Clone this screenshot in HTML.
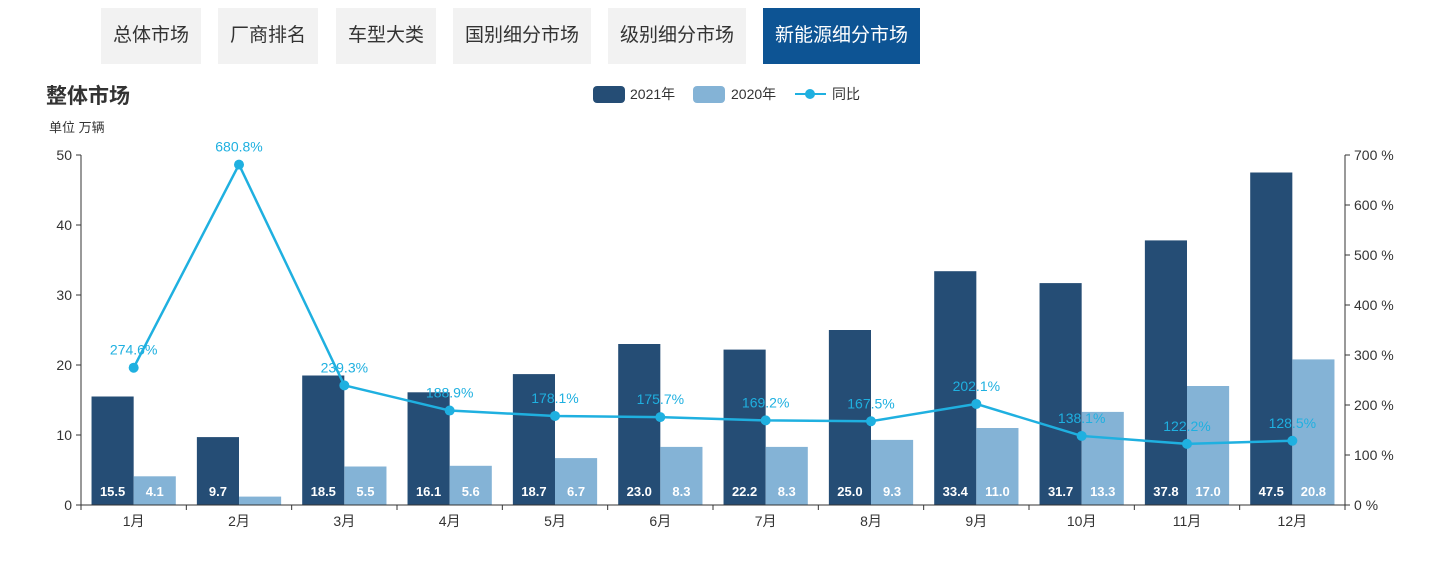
<!DOCTYPE html>
<html><head><meta charset="utf-8">
<style>
body{margin:0;width:1445px;height:580px;background:#fff;font-family:"Liberation Sans","Noto Sans CJK SC",sans-serif;overflow:hidden;position:relative}
.tab{position:absolute;top:8px;height:56px;line-height:56px;background:#f2f2f2;color:#333;font-size:19px;text-align:center}
.tab.on{background:#0d5494;color:#fff}
</style></head><body>
<div class="tab" style="left:101px;width:100px">总体市场</div>
<div class="tab" style="left:218px;width:100px">厂商排名</div>
<div class="tab" style="left:336px;width:100px">车型大类</div>
<div class="tab" style="left:453px;width:138px">国别细分市场</div>
<div class="tab" style="left:608px;width:138px">级别细分市场</div>
<div class="tab on" style="left:763px;width:157px">新能源细分市场</div>
<svg id="c" width="1445" height="580" style="position:absolute;left:0;top:0"></svg>
<script>
const categories=['1月','2月','3月','4月','5月','6月','7月','8月','9月','10月','11月','12月'];
const sales2021=[15.5,9.7,18.5,16.1,18.7,23.0,22.2,25.0,33.4,31.7,37.8,47.5];
const sales2020=[4.1,1.2,5.5,5.6,6.7,8.3,8.3,9.3,11.0,13.3,17.0,20.8];
const yoy=[274.6,680.8,239.3,188.9,178.1,175.7,169.2,167.5,202.1,138.1,122.2,128.5];
const leftTicks=[0,10,20,30,40,50];
const rightTicks=[0,100,200,300,400,500,600,700];
const svg=document.getElementById('c');const NS='http://www.w3.org/2000/svg';
function el(t,a,txt){const e=document.createElementNS(NS,t);for(const k in a)e.setAttribute(k,a[k]);if(txt!=null)e.textContent=txt;svg.appendChild(e);return e;}
const x0=81,x1=1345,yb=505,yt=155;
const cw=(x1-x0)/categories.length;
const yL=v=>yb-(yb-yt)*v/50;
const yR=v=>yb-(yb-yt)*v/700;
let t=el('text',{x:46,y:103,'font-size':21,'font-weight':'bold',fill:'#333'},'整体市场');

t=el('text',{x:49,y:132,'font-size':13,fill:'#333'},'单位 万辆');

// legend
let g=el('rect',{x:593,y:86,width:32,height:17,rx:4,fill:'#254d75'});
el('text',{x:630,y:99,'font-size':14,fill:'#333'},'2021年');
g=el('rect',{x:693,y:86,width:32,height:17,rx:4,fill:'#84b3d6'});
el('text',{x:731,y:99,'font-size':14,fill:'#333'},'2020年');
g=el('line',{x1:795,y1:94,x2:826,y2:94,stroke:'#1fb0e0','stroke-width':2});
el('circle',{cx:810,cy:94,r:5,fill:'#1fb0e0'});
el('text',{x:832,y:99,'font-size':14,fill:'#333'},'同比');
// axes
leftTicks.forEach(v=>{const y=yL(v);el('line',{x1:76,y1:y,x2:81,y2:y,stroke:'#333'});
 const l=el('text',{x:72,y:y+5,'font-size':14,fill:'#333','text-anchor':'end'},v);
 });
el('line',{x1:81,y1:yt,x2:81,y2:yb,stroke:'#333'});
rightTicks.forEach(v=>{const y=yR(v);el('line',{x1:1345,y1:y,x2:1350,y2:y,stroke:'#333'});
 const l=el('text',{x:1354,y:y+5,'font-size':14,fill:'#333'},v+' %');
 });
el('line',{x1:1345,y1:yt,x2:1345,y2:yb,stroke:'#333'});
// bars
categories.forEach((c,i)=>{
 const cx=x0+cw*i;const bw=cw*0.4;const bx=cx+cw*0.1;
 let r=el('rect',{x:bx,y:yL(sales2021[i]),width:bw,height:yb-yL(sales2021[i]),fill:'#254d75'});
 
 r=el('rect',{x:bx+bw,y:yL(sales2020[i]),width:bw,height:yb-yL(sales2020[i]),fill:'#84b3d6'});
 
 el('text',{x:bx+bw/2,y:496,'font-size':13,'font-weight':'bold',fill:'#fff','text-anchor':'middle'},sales2021[i].toFixed(1));
 el('text',{x:bx+bw*1.5,y:496,'font-size':13,'font-weight':'bold',fill:'#fff','text-anchor':'middle'},sales2020[i].toFixed(1));
 const l=el('text',{x:cx+cw/2,y:526,'font-size':14,fill:'#333','text-anchor':'middle'},c);
 
});
for(let i=0;i<=categories.length;i++){const x=x0+cw*i;el('line',{x1:x,y1:yb,x2:x,y2:yb+5,stroke:'#333'});}
el('line',{x1:x0,y1:yb,x2:x1,y2:yb,stroke:'#333'});
// line
const pts=yoy.map((v,i)=>[x0+cw*(i+0.5),yR(v)]);
let p=el('polyline',{points:pts.map(q=>q.join(',')).join(' '),fill:'none',stroke:'#1fb0e0','stroke-width':2.5});

pts.forEach((q,i)=>{const c=el('circle',{cx:q[0],cy:q[1],r:5,fill:'#1fb0e0'});
 
 el('text',{x:q[0],y:q[1]-13,'font-size':14,fill:'#1fb0e0','text-anchor':'middle'},yoy[i].toFixed(1)+'%');});
</script>
</body></html>
